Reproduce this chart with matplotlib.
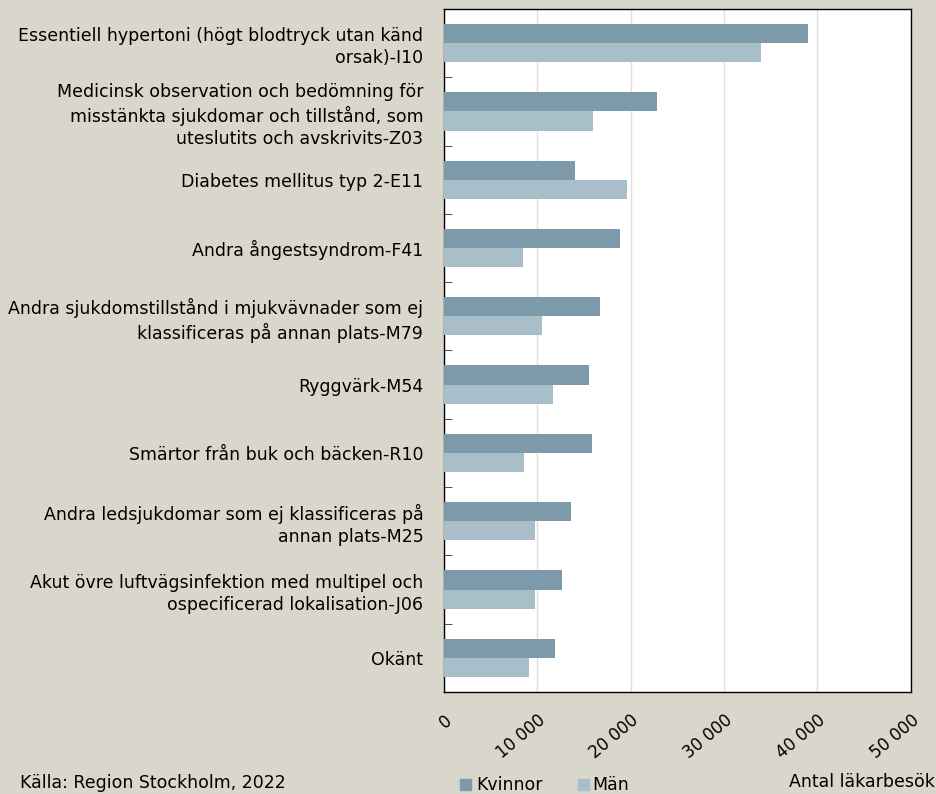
import numpy as np
import matplotlib.pyplot as plt
from matplotlib.patches import Rectangle

categories = [
    "Essentiell hypertoni (högt blodtryck utan känd\norsak)-I10",
    "Medicinsk observation och bedömning för\nmisstänkta sjukdomar och tillstånd, som\nuteslutits och avskrivits-Z03",
    "Diabetes mellitus typ 2-E11",
    "Andra ångestsyndrom-F41",
    "Andra sjukdomstillstånd i mjukvävnader som ej\nklassificeras på annan plats-M79",
    "Ryggvärk-M54",
    "Smärtor från buk och bäcken-R10",
    "Andra ledsjukdomar som ej klassificeras på\nannan plats-M25",
    "Akut övre luftvägsinfektion med multipel och\nospecificerad lokalisation-J06",
    "Okänt",
]
kvinnor = [39000, 22800, 14000, 18800, 16700, 15500, 15800, 13600, 12600, 11900]
man = [34000, 16000, 19600, 8500, 10500, 11700, 8600, 9700, 9700, 9100]
xticks = [0, 10000, 20000, 30000, 40000, 50000]
xticklabels = ["0", "10 000", "20 000", "30 000", "40 000", "50 000"]

bg = "#d9d7cb"
c_kv = "#7d9aab"
c_man = "#a8bec9"
fs = 12.5

plt.rcParams['font.family'] = ['DejaVu Sans']

fig = plt.figure(figsize=(9.37, 7.94), dpi=100, facecolor=bg)
ax = fig.add_axes([0.474, 0.1285, 0.498, 0.8602])
ax.set_facecolor("white")

y = np.arange(len(categories))
h = 0.28
ax.barh(y - h / 2, kvinnor, height=h, color=c_kv, zorder=3)
ax.barh(y + h / 2, man, height=h, color=c_man, zorder=3)

ax.set_xlim(0, 50000)
ax.set_ylim(len(categories) - 0.5, -0.5)
ax.set_xticks(xticks)
ax.set_xticklabels(xticklabels, rotation=40, ha="right", rotation_mode="anchor", fontsize=fs - 0.5)
ax.tick_params(axis="x", length=0, pad=14)
ax.grid(axis="x", color="#e2e0d8", linewidth=1.0, zorder=0)

ax.set_yticks(y)
ax.set_yticklabels(categories, fontsize=fs, ha="right", linespacing=1.3)
ax.tick_params(axis="y", length=0, pad=15)
ax.set_yticks(np.arange(len(categories) + 1) - 0.5, minor=True)
ax.tick_params(axis="y", which="minor", direction="in", length=6, color="#333333")

for s in ax.spines.values():
    s.set_color("black")
    s.set_linewidth(1.0)

# legend and notes
fig.patches.append(Rectangle((460 / 937, 1 - 790 / 794), 11 / 937, 11 / 794,
                             transform=fig.transFigure, color=c_kv))
fig.text(476 / 937, 1 - 785 / 794, "Kvinnor", fontsize=fs, va="center")
fig.patches.append(Rectangle((578 / 937, 1 - 790 / 794), 11 / 937, 11 / 794,
                             transform=fig.transFigure, color=c_man))
fig.text(592 / 937, 1 - 785 / 794, "Män", fontsize=fs, va="center")
fig.text(935 / 937, 1 - 782 / 794, "Antal läkarbesök", fontsize=fs, va="center", ha="right")
fig.text(20 / 937, 1 - 783 / 794, "Källa: Region Stockholm, 2022", fontsize=fs, va="center")

fig.savefig("out.png", dpi=100, facecolor=bg)
